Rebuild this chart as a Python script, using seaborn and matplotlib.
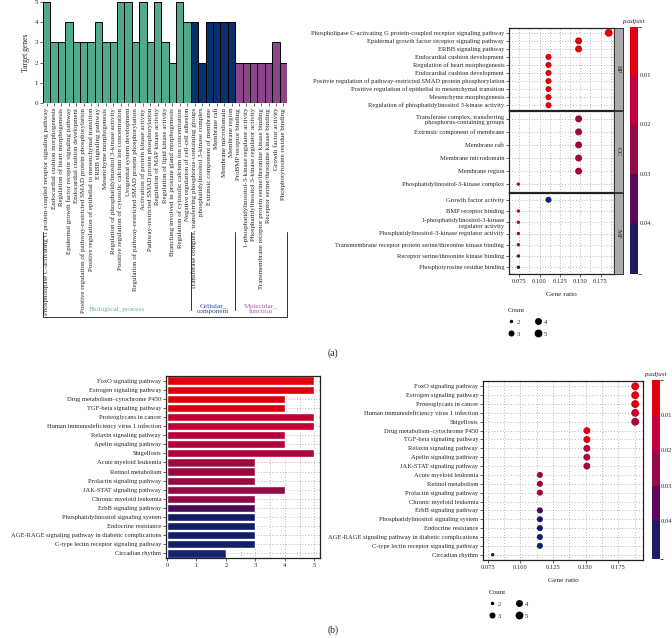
import numpy as np
import pandas as pd
import matplotlib
matplotlib.use("Agg")
import matplotlib.pyplot as plt
import seaborn as sns
from matplotlib.colors import LinearSegmentedColormap, ListedColormap, BoundaryNorm, Normalize
from matplotlib.lines import Line2D
from matplotlib.cm import ScalarMappable
import matplotlib.transforms as mtrans

# ---------------- DATA ----------------
# (a) GO bar chart
go_terms = [
    "Phospholipase C-activating G protein-coupled receptor signaling pathway",
    "Endocardial cushion morphogenesis",
    "Regulation of heart morphogenesis",
    "Epidermal growth factor receptor signaling pathway",
    "Endocardial cushion development",
    "Positive regulation of pathway-restricted SMAD protein phosphorylation",
    "Positive regulation of epithelial to mesenchymal transition",
    "ERBB signaling pathway",
    "Mesenchyme morphogenesis",
    "Regulation of phosphatidylinositol 3-kinase activity",
    "Positive regulation of cytosolic calcium ion concentration",
    "Urogenital system development",
    "Regulation of pathway-restricted SMAD protein phosphorylation",
    "Activation of protein kinase activity",
    "Pathway-restricted SMAD protein phosphorylation",
    "Regulation of MAP kinase activity",
    "Regulation of lipid kinase activity",
    "Branching involved in prostate gland morphogenesis",
    "Regulation of cytosolic calcium ion concentration",
    "Negative regulation of cell-cell adhesion",
    "Transferase complex, transferring phosphorus-containing groups",
    "phosphatidylinositol 3-kinase complex",
    "Extrinsic component of membrane",
    "Membrane raft",
    "Membrane microdomain",
    "Membrane region",
    "ProBMP receptor binding",
    "1-phosphatidylinositol-3-kinase regulator activity",
    "Phosphatidylinositol 3-kinase regulator activity",
    "Transmembrane receptor protein serine/threonine kinase binding",
    "Receptor serine/threonine kinase binding",
    "Growth factor activity",
    "Phosphotyrosine residue binding",
]
go_counts = [5, 3, 3, 4, 3, 3, 3, 4, 3, 3, 5, 5, 3, 5, 3, 5, 3, 2, 5, 4,
             4, 2, 4, 4, 4, 4,
             2, 2, 2, 2, 2, 3, 2]
go_ontology = ["BP", "BP", "BP", "BP", "BP", "BP", "BP", "BP", "BP", "BP",
               "BP", "BP", "BP", "BP", "BP", "BP", "BP", "BP", "BP", "BP",
               "CC", "CC", "CC", "CC", "CC", "CC",
               "MF", "MF", "MF", "MF", "MF", "MF", "MF"]
go_group_labels = ["Biological_process", "Cellular_\ncomponent", "Molecular_\nfunction"]

# (a) GO dot plot, facets
bp_terms = [
    "Phospholipase C-activating G protein-coupled receptor signaling pathway",
    "Epidermal growth factor receptor signaling pathway",
    "ERBB signaling pathway",
    "Endocardial cushion development",
    "Regulation of heart morphogenesis",
    "Endocardial cushion development",
    "Positvie regulation of pathway-restricted SMAD protein phosphorylation",
    "Positive regulation of epithelial to mesenchymal transition",
    "Mesenchyme morphogenesis",
    "Regulation of phosphatidylinositol 3-kinase activity",
]
bp_ratio = [0.185, 0.148, 0.148, 0.111, 0.111, 0.111, 0.111, 0.111, 0.111, 0.111]
bp_count = [5, 4, 4, 3, 3, 3, 3, 3, 3, 3]
bp_padj = [0.001, 0.003, 0.003, 0.004, 0.004, 0.004, 0.004, 0.004, 0.004, 0.004]

cc_terms = [
    "Transferase complex, transferring\nphosphorus-containing groups",
    "Extrinsic component of membrane",
    "Membrane raft",
    "Membrane microdomain",
    "Membrane region",
    "Phosphatidylinositol-3-kinase complex",
]
cc_ratio = [0.148, 0.148, 0.148, 0.148, 0.148, 0.074]
cc_count = [4, 4, 4, 4, 4, 2]
cc_padj = [0.019, 0.019, 0.019, 0.019, 0.019, 0.016]

mf_terms = [
    "Growth factor activity",
    "BMP receptor binding",
    "1-phosphatidylinositol-3-kinase\nregulator activity",
    "Phosphatidylinositol-3-kinase regulator activity",
    "Transmembrane receptor protein serine/threonine kinase binding",
    "Receptor serine/threonine kinase binding",
    "Phosphotyrosine residue binding",
]
mf_ratio = [0.111, 0.074, 0.074, 0.074, 0.074, 0.074, 0.074]
mf_count = [3, 2, 2, 2, 2, 2, 2]
mf_padj = [0.046, 0.015, 0.016, 0.015, 0.021, 0.033, 0.048]

facet_names = ["BP", "CC", "MF"]

# (b) KEGG bar chart
kegg_bar_terms = [
    "FoxO signaling pathway",
    "Estrogen signaling pathway",
    "Drug metabolism–cytochrome P450",
    "TGF-beta signaling pathway",
    "Proteoglycans in cancer",
    "Human immunodeficiency virus 1 infection",
    "Relaxin signaling pathway",
    "Apelin signaling pathway",
    "Shigellosis",
    "Acute myeloid leukemia",
    "Retinol metabolism",
    "Prolactin signaling pathway",
    "JAK-STAT signaling pathway",
    "Chronic myeloid leukemia",
    "ErbB signaling pathway",
    "Phosphatidylinositol signaling system",
    "Endocrine resistance",
    "AGE-RAGE signaling pathway in diabetic complications",
    "C-type lectin receptor signaling pathway",
    "Circadian rhythm",
]
kegg_bar_counts = [5, 5, 4, 4, 5, 5, 4, 4, 5, 3, 3, 3, 4, 3, 3, 3, 3, 3, 3, 2]
kegg_bar_padj = [0.002, 0.003, 0.004, 0.005, 0.010, 0.011, 0.014, 0.015, 0.016, 0.021,
                 0.0215, 0.022, 0.023, 0.024, 0.036, 0.045, 0.0452, 0.0455, 0.046, 0.049]

# (b) KEGG dot plot
kegg_dot_terms = [
    "FoxO signaling pathway",
    "Estrogen signaling pathway",
    "Proteoglycans in cancer",
    "Human immunodeficiency virus 1 infection",
    "Shigellosis",
    "Drug metabolism–cytochrome P450",
    "TGF-beta signaling pathway",
    "Relaxin signaling pathway",
    "Apelin signaling pathway",
    "JAK-STAT signaling pathway",
    "Acute myeloid leukemia",
    "Retinol metabolism",
    "Prolactin signaling pathway",
    "Chronic myeloid leukemia",
    "ErbB signaling pathway",
    "Phosphatidylinositol signaling system",
    "Endocrine resistance",
    "AGE-RAGE signaling pathway in diabetic complications",
    "C-type lectin receptor signaling pathway",
    "Circadian rhythm",
]
kegg_dot_ratio = [0.188, 0.188, 0.188, 0.188, 0.188, 0.151, 0.151, 0.151, 0.151, 0.151,
                  0.115, 0.115, 0.115, np.nan, 0.115, 0.115, 0.115, 0.115, 0.115, 0.0788]
kegg_dot_count = [5, 5, 5, 5, 5, 4, 4, 4, 4, 4, 3, 3, 3, 3, 3, 3, 3, 3, 3, 2]
kegg_dot_padj = [0.002, 0.003, 0.006, 0.009, 0.018, 0.003, 0.005, 0.014, 0.016, 0.019,
                 0.021, 0.020, 0.021, 0.024, 0.036, 0.045, 0.045, 0.046, 0.046, 0.049]

count_levels = [2, 3, 4, 5]
padj_ticks = [0.01, 0.02, 0.03, 0.04]

# ---------------- STYLE ----------------
sns.set_style("white")
plt.rcParams["font.family"] = ["Liberation Serif", "DejaVu Serif"]
plt.rcParams["axes.linewidth"] = 0.8

W, H = 672, 638
fig = plt.figure(figsize=(W / 100, H / 100), dpi=100)


def rect(x0, y0, x1, y1):
    return [x0 / W, 1 - y1 / H, (x1 - x0) / W, (y1 - y0) / H]


FS = 4.7
cmap = LinearSegmentedColormap.from_list("padj", [
    (0.00, "#E4000C"), (0.10, "#DA000F"), (0.20, "#C4002E"), (0.30, "#B3003A"),
    (0.44, "#960A42"), (0.56, "#7A0A4C"), (0.72, "#4A0C58"), (0.85, "#101A5E"),
    (1.00, "#172474")])
pnorm = Normalize(0, 0.05)
size_map = {2: 6, 3: 19, 4: 25, 5: 32}
bar_pal = {"BP": "#52AA8C", "CC": "#08306E", "MF": "#8C468C"}
grid_kw = dict(color="#777777", linestyle=(0, (1, 3)), linewidth=0.5)

# ---------------- (a) bar chart ----------------
axa = fig.add_axes(rect(43, 2, 287, 103))
dfa = pd.DataFrame({"term": go_terms, "count": go_counts, "ont": go_ontology})
sns.barplot(data=dfa, x="term", y="count", hue="ont", palette=bar_pal, dodge=False,
            saturation=1, width=1.0, edgecolor="black", linewidth=0.7, legend=False, ax=axa)
axa.set_xlim(-0.5, len(go_terms) - 0.5)
axa.set_ylim(0, 5)
axa.set_xticks(range(len(go_terms)))
axa.set_xticklabels(go_terms, rotation=90, fontsize=FS)
axa.set_yticks([0, 1, 2, 3, 4, 5])
axa.tick_params(axis="both", length=2, width=0.5, labelsize=FS + 0.3, pad=1.5)
axa.tick_params(axis="y", left=True)
axa.tick_params(axis="x", bottom=True)
axa.set_xlabel("")
axa.set_ylabel("Target genes", fontsize=5.5, labelpad=3)
for s in axa.spines.values():
    s.set_visible(False)

tr = mtrans.blended_transform_factory(axa.transData, fig.transFigure)
yb = 1 - 317 / H
yt = 1 - 232 / H
ym = 1 - 310 / H
for xv, ytop, ybot in [(-0.5, yt, yb), (19.5, yt, ym), (25.5, yt, ym), (32.5, yt, yb)]:
    fig.add_artist(Line2D([xv, xv], [ybot, ytop], transform=tr, color="#333333", lw=0.7))
fig.add_artist(Line2D([-0.5, 32.5], [yb, yb], transform=tr, color="#333333", lw=0.7))
for lbl, xc, col in zip(go_group_labels, [9.5, 22.5, 29.0], ["#5BB89A", "#2A4A9A", "#B060A8"]):
    axa.text(xc, 1 - 309 / H, lbl, transform=tr, ha="center", va="center",
             fontsize=5.2, color=col, linespacing=1.1)

# ---------------- (a) dot plot facets ----------------
facets = [
    (bp_terms, bp_ratio, bp_count, bp_padj, (28, 110)),
    (cc_terms, cc_ratio, cc_count, cc_padj, (111, 192)),
    (mf_terms, mf_ratio, mf_count, mf_padj, (193, 274)),
]
for i, (terms, ratio, cnt, padj, (y0, y1)) in enumerate(facets):
    ax = fig.add_axes(rect(509, y0, 614, y1))
    d = pd.DataFrame({"ratio": ratio, "y": np.arange(len(terms)), "count": cnt, "padj": padj})
    sns.scatterplot(data=d, x="ratio", y="y", hue="padj", size="count", palette=cmap,
                    hue_norm=pnorm, sizes=size_map, legend=False,
                    edgecolor="none", ax=ax, zorder=3)
    ax.set_xlim(0.068, 0.1915)
    ax.set_ylim(len(terms) - 1 + 0.6, -0.6)
    ax.set_yticks(range(len(terms)))
    ax.set_yticklabels(terms, fontsize=FS)
    ax.set_xticks([0.075, 0.100, 0.125, 0.150, 0.175])
    ax.set_xticks([0.0625, 0.0875, 0.1125, 0.1375, 0.1625, 0.1875], minor=True)
    ax.grid(which="both", axis="x", **grid_kw)
    ax.grid(which="major", axis="y", **grid_kw)
    ax.set_axisbelow(True)
    ax.tick_params(axis="y", left=True, length=2, width=0.5, pad=1.5)
    ax.tick_params(axis="x", which="both", bottom=False, labelbottom=False)
    ax.set_xlabel("")
    ax.set_ylabel("")
    for s in ax.spines.values():
        s.set_linewidth(0.9)
        s.set_color("#222222")
    if i == 2:
        ax.tick_params(axis="x", which="major", bottom=True, labelbottom=True,
                       length=2, width=0.5, labelsize=FS, pad=1.5)
        ax.set_xticklabels(["0.075", "0.100", "0.125", "0.150", "0.175"])
        ax.set_xlabel("Gene ratio", fontsize=5.2, labelpad=6)
    sax = fig.add_axes(rect(614, y0, 623, y1))
    sax.set_facecolor("#AAAAAA")
    sax.set_xticks([])
    sax.set_yticks([])
    for s in sax.spines.values():
        s.set_linewidth(0.7)
        s.set_color("#333333")
    sax.text(0.5, 0.5, facet_names[i], rotation=270, ha="center", va="center",
             fontsize=5, transform=sax.transAxes)

# colorbar helper
cb_colors = ["#E0000F", "#C5003A", "#960A4A", "#5A0A5A", "#1E1A64"]


def draw_cbar(x0, y0, x1, y1, vmin, vmax, pad=1.5):
    cax = fig.add_axes(rect(x0, y0, x1, y1))
    bounds = [vmin] + padj_ticks + [vmax]
    sm = ScalarMappable(norm=BoundaryNorm(bounds, 5), cmap=ListedColormap(cb_colors))
    cb = fig.colorbar(sm, cax=cax, boundaries=bounds, spacing="proportional", ticks=padj_ticks)
    cb.outline.set_visible(False)
    cax.invert_yaxis()
    cax.set_yticklabels(["0.01", "0.02", "0.03", "0.04"])
    cax.tick_params(length=2, width=0.6, color="white", labelsize=FS, pad=pad, direction="in")
    cax.set_title("p.adjust", fontsize=5, style="italic", pad=3)
    return cax


draw_cbar(630, 27, 638, 274, 0.0004, 0.0502)


def size_legend(x, y):
    handles = [Line2D([], [], marker="o", linestyle="none", color="black",
                      markersize=np.sqrt(size_map[c]), markeredgewidth=0) for c in count_levels]
    leg = fig.legend(handles, [str(c) for c in count_levels], title="Count", ncol=2,
                     loc="upper left", bbox_to_anchor=(x / W, 1 - y / H), frameon=False,
                     fontsize=FS, title_fontsize=5, handletextpad=0.2, columnspacing=2.2,
                     labelspacing=1.0, handlelength=1.2, alignment="left", borderpad=0.2)
    return leg


size_legend(503, 303)
fig.text(333 / W, 1 - 353 / H, "(a)", fontsize=7, ha="center", va="center")

# ---------------- (b) bar chart ----------------
axb = fig.add_axes(rect(166, 376, 320, 558))
dfb = pd.DataFrame({"term": kegg_bar_terms, "count": kegg_bar_counts, "padj": kegg_bar_padj})
bar_colors = {t: cmap(pnorm(p)) for t, p in zip(kegg_bar_terms, kegg_bar_padj)}
sns.barplot(data=dfb, y="term", x="count", hue="term", palette=bar_colors, saturation=1,
            dodge=False, width=0.9, legend=False, orient="h", ax=axb, zorder=2)
axb.set_xlim(-0.03, 5.19)
axb.set_ylim(len(kegg_bar_terms) - 0.5, -0.5)
axb.set_xticks([0, 1, 2, 3, 4, 5])
axb.set_xticks([0.5, 1.5, 2.5, 3.5, 4.5], minor=True)
axb.grid(which="both", axis="x", **grid_kw)
axb.grid(which="major", axis="y", **grid_kw)
axb.set_axisbelow(True)
axb.tick_params(axis="both", which="major", length=2, width=0.5, labelsize=FS, pad=1.5,
                left=True, bottom=True)
axb.tick_params(axis="x", which="minor", bottom=False)
axb.set_xlabel("")
axb.set_ylabel("")
for s in axb.spines.values():
    s.set_linewidth(0.9)
    s.set_color("#222222")

# ---------------- (b) dot plot ----------------
axd = fig.add_axes(rect(483, 381, 643, 560))
dd = pd.DataFrame({"ratio": kegg_dot_ratio, "y": np.arange(len(kegg_dot_terms)),
                   "count": kegg_dot_count, "padj": kegg_dot_padj})
sns.scatterplot(data=dd, x="ratio", y="y", hue="padj", size="count", palette=cmap,
                hue_norm=pnorm, sizes=size_map, legend=False, edgecolor="none", ax=axd, zorder=3)
axd.set_xlim(0.0714, 0.194)
axd.set_ylim(len(kegg_dot_terms) - 1 + 0.6, -0.6)
axd.set_yticks(range(len(kegg_dot_terms)))
axd.set_yticklabels(kegg_dot_terms, fontsize=FS)
axd.set_xticks([0.075, 0.100, 0.125, 0.150, 0.175])
axd.set_xticklabels(["0.075", "0.100", "0.125", "0.150", "0.175"])
axd.set_xticks([0.0875, 0.1125, 0.1375, 0.1625, 0.1875], minor=True)
axd.grid(which="both", axis="x", **grid_kw)
axd.grid(which="major", axis="y", **grid_kw)
axd.set_axisbelow(True)
axd.tick_params(axis="both", which="major", length=2, width=0.5, labelsize=FS, pad=1.5,
                left=True, bottom=True)
axd.tick_params(axis="x", which="minor", bottom=False)
axd.set_xlabel("Gene ratio", fontsize=5.2, labelpad=6)
axd.set_ylabel("")
for s in axd.spines.values():
    s.set_linewidth(0.9)
    s.set_color("#222222")

draw_cbar(652, 380, 660, 559, 0.0001, 0.0507, pad=0.8)
size_legend(484, 585)
fig.text(333 / W, 1 - 630 / H, "(b)", fontsize=7, ha="center", va="center")

fig.savefig("out.png", dpi=100)
